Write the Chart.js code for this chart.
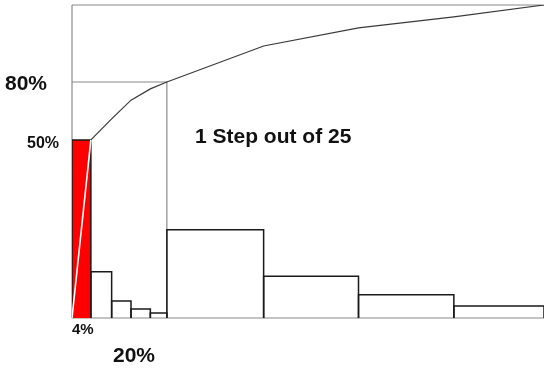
<!DOCTYPE html>
<html>
<head>
<meta charset="utf-8">
<script src="https://cdn.jsdelivr.net/npm/chart.js@4"></script>
<style>
    body { margin: 0; background: #fff; }
    #wrap { position: relative; width: 544px; height: 369px; }
    .lbl { position: absolute; font-family: "Liberation Sans", Arial, sans-serif; font-weight: bold; color: #111; line-height: 1; white-space: nowrap; }
</style>
</head>
<body>
<div id="wrap">
    <canvas id="myChart" width="544" height="369"></canvas>
    <div class="lbl" style="left:5px; top:72px; font-size:21px;">80%</div>
    <div class="lbl" style="left:27px; top:135px; font-size:16px;">50%</div>
    <div class="lbl" style="left:72px; top:321px; font-size:15px;">4%</div>
    <div class="lbl" style="left:113px; top:344px; font-size:21px;">20%</div>
    <div class="lbl" style="left:195px; top:125px; font-size:21px;">1 Step out of 25</div>
</div>
<script>
// bar edges along x (% of causes) and bar heights
const barEdges = [0, 4, 8.4, 12.5, 16.6, 20.1, 40.6, 60.7, 80.9, 100];
const barHeights = [56.9, 14.8, 5.4, 2.9, 1.6, 28.2, 13.3, 7.4, 3.8];

// cumulative curve
const cumX = [0, 4, 8.4, 12.5, 16.6, 20.1, 40.6, 60.7, 80.9, 100];
const cumY = [0, 56.9, 63.6, 69.6, 73.2, 75.4, 86.9, 92.7, 96.2, 100];

// the 20% / 80% guide
const guideX = 20.1;
const guideY = 75.4;

const datasets = [];

// frame: top, left, bottom
const frameLines = [
    [[0, 100], [100, 100]],
    [[0, 0], [0, 100]],
    [[0, 0], [100, 0]]
];
frameLines.forEach(pts => {
    datasets.push({
        data: pts.map(p => ({ x: p[0], y: p[1] })),
        borderColor: '#8a8a8a',
        borderWidth: 1.2,
        clip: false,
        order: 3
    });
});

// guide lines
datasets.push({
    data: [{ x: 0, y: guideY }, { x: guideX, y: guideY }, { x: guideX, y: 0 }],
    borderColor: '#8a8a8a',
    borderWidth: 1.2,
    order: 2
});

// bars as closed outlines
barHeights.forEach((h, i) => {
    const x0 = barEdges[i];
    const x1 = barEdges[i + 1];
    datasets.push({
        data: [{ x: x0, y: 0 }, { x: x0, y: h }, { x: x1, y: h }, { x: x1, y: 0 }],
        borderColor: '#1a1a1a',
        borderWidth: 1.5,
        backgroundColor: i === 0 ? '#ff0000' : 'rgba(0,0,0,0)',
        fill: i === 0 ? 'origin' : false,
        order: 1
    });
});

// cumulative line (white inside the red bar), drawn on top
datasets.push({
    data: cumX.map((x, i) => ({ x: x, y: cumY[i] })),
    borderColor: '#3a3a3a',
    borderWidth: 1.2,
    order: 0,
    segment: {
        borderColor: ctx => ctx.p0DataIndex === 0 ? '#ffffff' : '#3a3a3a',
        borderWidth: ctx => ctx.p0DataIndex === 0 ? 1.6 : 1.2
    }
});

var ctx = document.getElementById('myChart').getContext('2d');
// eslint-disable-next-line no-undef
var chart = new Chart(ctx, {
    type: 'line',
    data: { datasets: datasets },
    options: {
        responsive: false,
        animation: false,
        layout: { padding: { left: 72, top: 5, right: 0, bottom: 51 } },
        elements: { point: { radius: 0 }, line: { tension: 0 } },
        scales: {
            x: { type: 'linear', min: 0, max: 100, display: false },
            y: { type: 'linear', min: 0, max: 100, display: false }
        },
        plugins: { legend: { display: false }, tooltip: { enabled: false } }
    }
});
</script>
</body>
</html>
